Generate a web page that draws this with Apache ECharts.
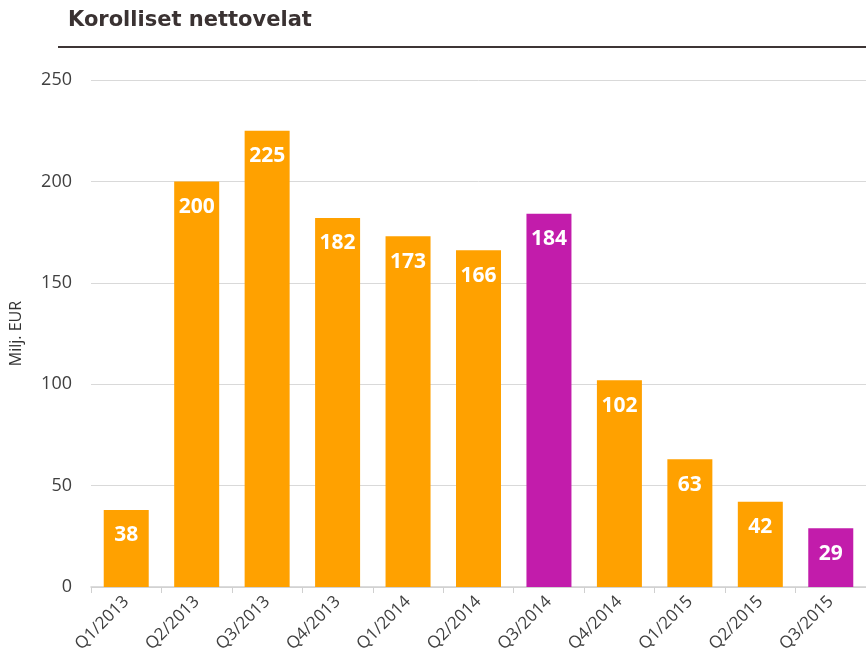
<!DOCTYPE html>
<html>
<head>
<meta charset="utf-8">
<script src="https://cdn.jsdelivr.net/npm/echarts@6/dist/echarts.min.js"></script>
<style>
html,body{margin:0;padding:0;background:#fff;}
#c{width:866px;height:669px;}
</style>
</head>
<body>
<div id="c"></div>
<script>
const categories = ['Q1/2013','Q2/2013','Q3/2013','Q4/2013','Q1/2014','Q2/2014','Q3/2014','Q4/2014','Q1/2015','Q2/2015','Q3/2015'];
const values = [38, 200, 225, 182, 173, 166, 184, 102, 63, 42, 29];
const highlighted = ['Q3/2014', 'Q3/2015'];
const yTicks = [0, 50, 100, 150, 200, 250];

const ORANGE = '#FFA100';
const MAGENTA = '#C21CAB';

const chart = echarts.init(document.getElementById('c'));
chart.setOption({
  animation: false,
  backgroundColor: '#fff',
  title: {
    text: 'Korolliset nettovelat',
    left: 63, top: 5,
    textStyle: { fontFamily: 'DejaVu Sans', fontWeight: 'bold', fontSize: 21, color: '#3a3232' }
  },
  graphic: [{
    type: 'line',
    shape: { x1: 58, y1: 47, x2: 866, y2: 47 },
    style: { stroke: '#3d3535', lineWidth: 2 }
  }],
  grid: { left: 89, top: 80, width: 783, bottom: 82, containLabel: false },
  xAxis: {
    type: 'category',
    data: categories,
    axisLine: { lineStyle: { color: '#d0d0d0', width: 1.5 } },
    axisTick: { show: true, length: 6, lineStyle: { color: '#d0d0d0' } },
    axisLabel: { rotate: 45, color: '#404040', fontSize: 17, fontFamily: 'Open Sans', margin: 12 }
  },
  yAxis: {
    type: 'value',
    min: yTicks[0], max: yTicks[yTicks.length - 1], interval: 50,
    name: 'Milj. EUR',
    nameLocation: 'middle',
    nameRotate: 90,
    nameGap: 67,
    nameTextStyle: { color: '#333', fontSize: 16, fontFamily: 'Open Sans' },
    axisLine: { show: false },
    axisTick: { show: false },
    axisLabel: { color: '#404040', fontSize: 18, fontFamily: 'Open Sans', margin: 19 },
    splitLine: { lineStyle: { color: '#d9d9d9', width: 1 } }
  },
  series: [{
    type: 'bar',
    barWidth: 45,
    data: values.map((v, i) => ({
      value: v,
      itemStyle: { color: highlighted.includes(categories[i]) ? MAGENTA : ORANGE }
    })),
    label: {
      show: true,
      position: 'insideTop',
      distance: 15,
      color: '#fff',
      fontWeight: 'bold',
      fontSize: 21,
      fontFamily: 'Open Sans'
    }
  }]
});
</script>
</body>
</html>
